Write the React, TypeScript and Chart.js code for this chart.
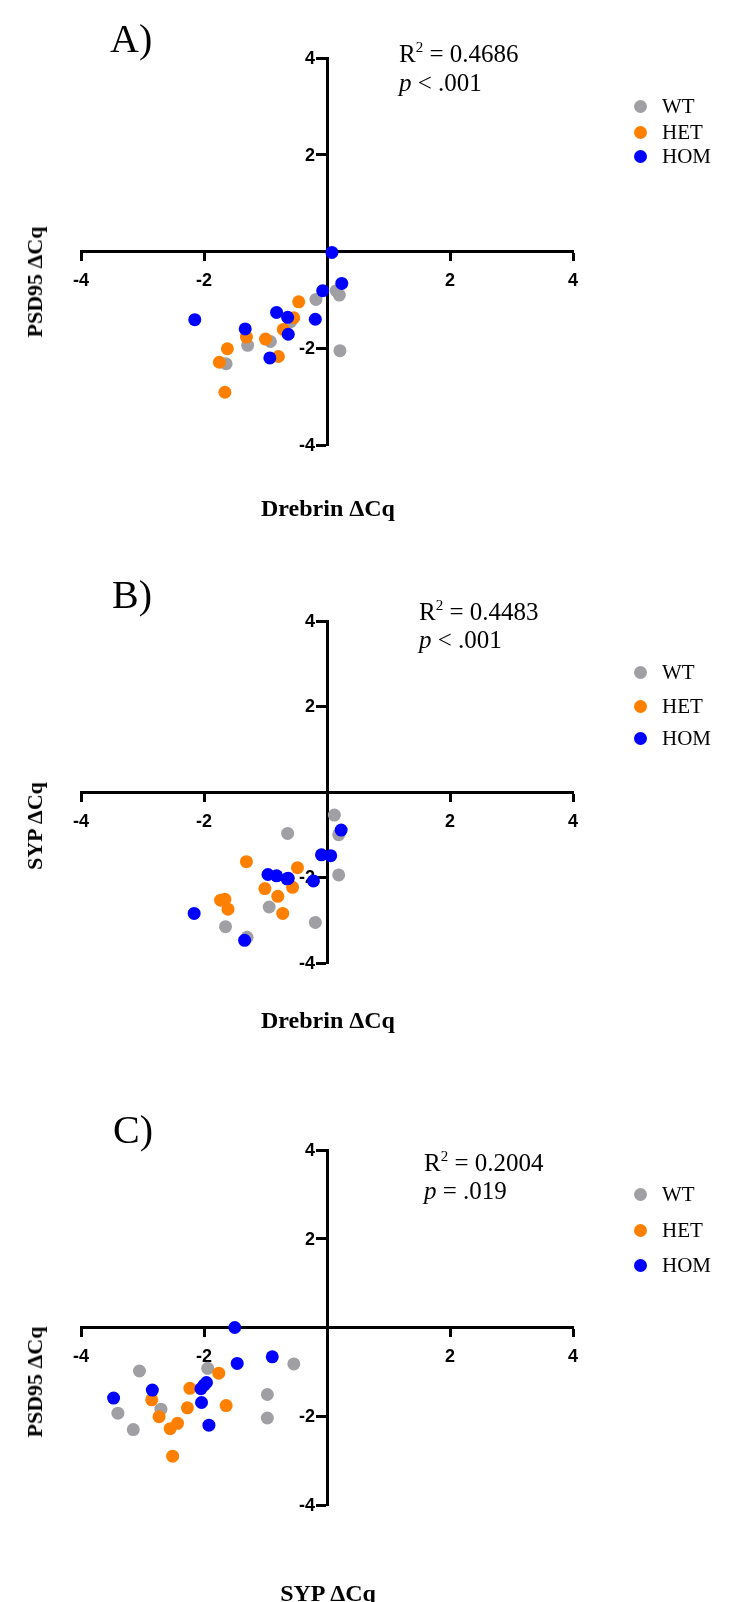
import React, { useEffect, useRef } from "react";
import { Chart, registerables } from "chart.js";

Chart.register(...registerables);

// ---------- data ----------
const groupNames = ["WT", "HET", "HOM"];
const groupColors = ["#a0a0a4", "#ff8000", "#0000ff"];
const axisMin = -4;
const axisMax = 4;
const axisStep = 2;

// Panel A: Drebrin ΔCq (x) vs PSD95 ΔCq (y)
const aWtX = [-0.18, 0.15, 0.2, -0.59, -1.29, -0.92, -1.64, 0.21];
const aWtY = [-0.99, -0.81, -0.9, -1.45, -1.94, -1.86, -2.32, -2.05];
const aHetX = [-0.46, -0.54, -0.71, -1.31, -1.0, -1.62, -0.79, -1.75, -1.66];
const aHetY = [-1.04, -1.37, -1.61, -1.77, -1.81, -2.01, -2.17, -2.29, -2.91];
const aHomX = [0.08, 0.24, -0.07, -0.82, -0.64, -0.19, -2.15, -1.33, -0.63, -0.93];
const aHomY = [-0.02, -0.66, -0.81, -1.26, -1.36, -1.4, -1.41, -1.6, -1.71, -2.2];

// Panel B: Drebrin ΔCq (x) vs SYP ΔCq (y)
const bWtX = [0.12, -0.64, 0.19, 0.19, -0.94, -0.19, -1.65, -1.3];
const bWtY = [-0.54, -0.97, -1.0, -1.94, -2.69, -3.05, -3.15, -3.4];
const bHetX = [-1.31, -0.48, -1.73, -1.66, -1.61, -1.01, -0.8, -0.56, -0.72];
const bHetY = [-1.63, -1.77, -2.53, -2.51, -2.74, -2.26, -2.44, -2.23, -2.84];
const bHomX = [0.23, -0.09, 0.06, -0.96, -0.82, -0.65, -0.63, -0.22, -2.16, -1.34];
const bHomY = [-0.89, -1.47, -1.49, -1.93, -1.96, -2.03, -2.02, -2.08, -2.84, -3.47];

// Panel C: SYP ΔCq (x) vs PSD95 ΔCq (y)
const cWtX = [-0.54, -3.05, -1.94, -0.97, -2.7, -3.4, -0.97, -3.15];
const cWtY = [-0.82, -0.98, -0.92, -1.51, -1.84, -1.93, -2.04, -2.3];
const cHetX = [-1.76, -2.23, -2.85, -2.27, -1.64, -2.73, -2.43, -2.55, -2.51];
const cHetY = [-1.03, -1.37, -1.63, -1.81, -1.76, -2.01, -2.16, -2.28, -2.9];
const cHomX = [-1.5, -0.89, -1.46, -1.96, -2.0, -2.05, -2.84, -3.47, -2.04, -1.92];
const cHomY = [0.0, -0.66, -0.81, -1.24, -1.3, -1.38, -1.41, -1.59, -1.69, -2.2];

const panelLetters = ["A)", "B)", "C)"];
const xTitles = ["Drebrin ΔCq", "Drebrin ΔCq", "SYP ΔCq"];
const yTitles = ["PSD95 ΔCq", "SYP ΔCq", "PSD95 ΔCq"];
const rSquared = ["0.4686", "0.4483", "0.2004"];
const pTexts = ["< .001", "< .001", "= .019"];

// ---------- layout (pixels) ----------
const PAGE_W = 731;
const SERIF = '"Liberation Serif", "Times New Roman", Times, serif';
const SANS = '"Liberation Sans", Arial, Helvetica, sans-serif';
const TICK_FONT_SIZE = 18;

type Layout = {
  top: number;
  height: number;
  plotLeft: number;
  plotRight: number;
  plotTop: number;
  plotBottom: number;
  letterLeft: number;
  letterCy: number;
  statLeft: number;
  statCy1: number;
  statCy2: number;
  legendDotCx: number;
  legendTextLeft: number;
  legendCy: number[];
  yTitleCx: number;
  yTitleCy: number;
  xTitleCx: number;
  xTitleCy: number;
};

const layouts: Layout[] = [
  {
    top: 0, height: 520, plotLeft: 81, plotRight: 573, plotTop: 58, plotBottom: 445,
    letterLeft: 110, letterCy: 39, statLeft: 399, statCy1: 53, statCy2: 82,
    legendDotCx: 640, legendTextLeft: 662, legendCy: [106, 132, 156],
    yTitleCx: 35, yTitleCy: 282, xTitleCx: 328, xTitleCy: 508,
  },
  {
    top: 520, height: 540, plotLeft: 81, plotRight: 573, plotTop: 621, plotBottom: 963,
    letterLeft: 112, letterCy: 595, statLeft: 419, statCy1: 611, statCy2: 639,
    legendDotCx: 640, legendTextLeft: 662, legendCy: [672, 706, 738],
    yTitleCx: 35, yTitleCy: 826, xTitleCx: 328, xTitleCy: 1020,
  },
  {
    top: 1060, height: 542, plotLeft: 81, plotRight: 573, plotTop: 1150, plotBottom: 1505,
    letterLeft: 113, letterCy: 1130, statLeft: 424, statCy1: 1162, statCy2: 1190,
    legendDotCx: 640, legendTextLeft: 662, legendCy: [1194, 1230, 1265],
    yTitleCx: 35, yTitleCy: 1382, xTitleCx: 328, xTitleCy: 1593,
  },
];

const panelSeries: number[][][] = [
  [aWtX, aWtY, aHetX, aHetY, aHomX, aHomY],
  [bWtX, bWtY, bHetX, bHetY, bHomX, bHomY],
  [cWtX, cWtY, cHetX, cHetY, cHomX, cHomY],
];

function toPoints(xs: number[], ys: number[]) {
  return xs.map((x, i) => ({ x, y: ys[i] }));
}

// Y tick labels for an axis crossing at x = 0 (Chart.js puts them on the line itself)
const yTickLabelPlugin = {
  id: "yTickLabels",
  beforeDatasetsDraw(chart: any) {
    const { ctx, scales } = chart;
    const xs = scales.x;
    const ys = scales.y;
    const axisX = xs.getPixelForValue(0);
    ctx.save();
    ctx.font = `bold ${TICK_FONT_SIZE}px ${SANS}`;
    ctx.fillStyle = "#000";
    ctx.textAlign = "right";
    ctx.textBaseline = "middle";
    ys.ticks.forEach((t: any) => {
      if (t.value !== 0) ctx.fillText(String(t.value), axisX - 12, ys.getPixelForValue(t.value) + 1);
    });
    ctx.restore();
  },
};

function axisOptions(isX: boolean) {
  return {
    type: "linear" as const,
    min: axisMin,
    max: axisMax,
    position: isX ? { y: 0 } : { x: 0 },
    ticks: {
      display: isX,
      stepSize: axisStep,
      color: "#000",
      padding: 11,
      font: { family: SANS, size: TICK_FONT_SIZE, weight: "bold" as const },
      callback: (v: any) => (Number(v) === 0 ? null : String(v)),
    },
    grid: {
      drawOnChartArea: false,
      drawTicks: true,
      tickLength: isX ? 8 : 10,
      tickWidth: 3,
      tickColor: "#000",
    },
    border: { display: true, color: "#000", width: 3 },
  };
}

function ScatterPanel({ index }: { index: number }) {
  const ref = useRef<HTMLCanvasElement | null>(null);
  const L = layouts[index];
  const s = panelSeries[index];

  useEffect(() => {
    if (!ref.current) return;
    const datasets = groupNames.map((name, g) => ({
      label: name,
      data: toPoints(s[g * 2], s[g * 2 + 1]),
      backgroundColor: groupColors[g],
      borderColor: groupColors[g],
      borderWidth: 0,
      pointRadius: 6.5,
      pointHoverRadius: 6.5,
      order: 3 - g,
    }));
    const chart = new Chart(ref.current, {
      type: "scatter",
      data: { datasets },
      options: {
        responsive: false,
        animation: false,
        events: [],
        layout: {
          padding: {
            left: L.plotLeft,
            right: PAGE_W - L.plotRight,
            top: L.plotTop - L.top,
            bottom: L.top + L.height - L.plotBottom,
          },
        },
        plugins: { legend: { display: false }, tooltip: { enabled: false } },
        scales: { x: axisOptions(true) as any, y: axisOptions(false) as any },
      },
      plugins: [yTickLabelPlugin],
    });
    return () => chart.destroy();
  }, [index]);

  const serifText: React.CSSProperties = {
    position: "absolute",
    fontFamily: SERIF,
    lineHeight: 1,
    whiteSpace: "nowrap",
    color: "#000",
  };

  return (
    <>
      <canvas
        ref={ref}
        width={PAGE_W}
        height={L.height}
        style={{ position: "absolute", left: 0, top: L.top, width: PAGE_W, height: L.height }}
      />
      <div style={{ ...serifText, left: L.letterLeft, top: L.letterCy - 20, fontSize: 40 }}>
        {panelLetters[index]}
      </div>
      <div style={{ ...serifText, left: L.statLeft, top: L.statCy1 - 12.5, fontSize: 25 }}>
        R
        <span style={{ fontSize: 15, position: "relative", top: -10 }}>2</span> = {rSquared[index]}
      </div>
      <div style={{ ...serifText, left: L.statLeft, top: L.statCy2 - 12.5, fontSize: 25 }}>
        <i>p</i> {pTexts[index]}
      </div>
      {groupNames.map((name, g) => (
        <React.Fragment key={name}>
          <div
            style={{
              position: "absolute",
              left: L.legendDotCx - 6.5,
              top: L.legendCy[g] - 6.5,
              width: 13,
              height: 13,
              borderRadius: "50%",
              background: groupColors[g],
            }}
          />
          <div style={{ ...serifText, left: L.legendTextLeft, top: L.legendCy[g] - 10.5, fontSize: 21 }}>
            {name}
          </div>
        </React.Fragment>
      ))}
      <div
        style={{
          ...serifText,
          left: L.yTitleCx,
          top: L.yTitleCy,
          fontSize: 22,
          fontWeight: "bold",
          transform: "translate(-50%, -50%) rotate(-90deg)",
        }}
      >
        {yTitles[index]}
      </div>
      <div
        style={{
          ...serifText,
          left: L.xTitleCx,
          top: L.xTitleCy,
          fontSize: 24,
          fontWeight: "bold",
          transform: "translate(-50%, -50%)",
        }}
      >
        {xTitles[index]}
      </div>
    </>
  );
}

export default function App() {
  useEffect(() => {
    document.body.style.margin = "0";
    document.body.style.background = "#fff";
  }, []);
  return (
    <div style={{ position: "relative", width: PAGE_W, height: 1602, overflow: "hidden", background: "#fff" }}>
      {layouts.map((_, i) => (
        <ScatterPanel key={i} index={i} />
      ))}
    </div>
  );
}
